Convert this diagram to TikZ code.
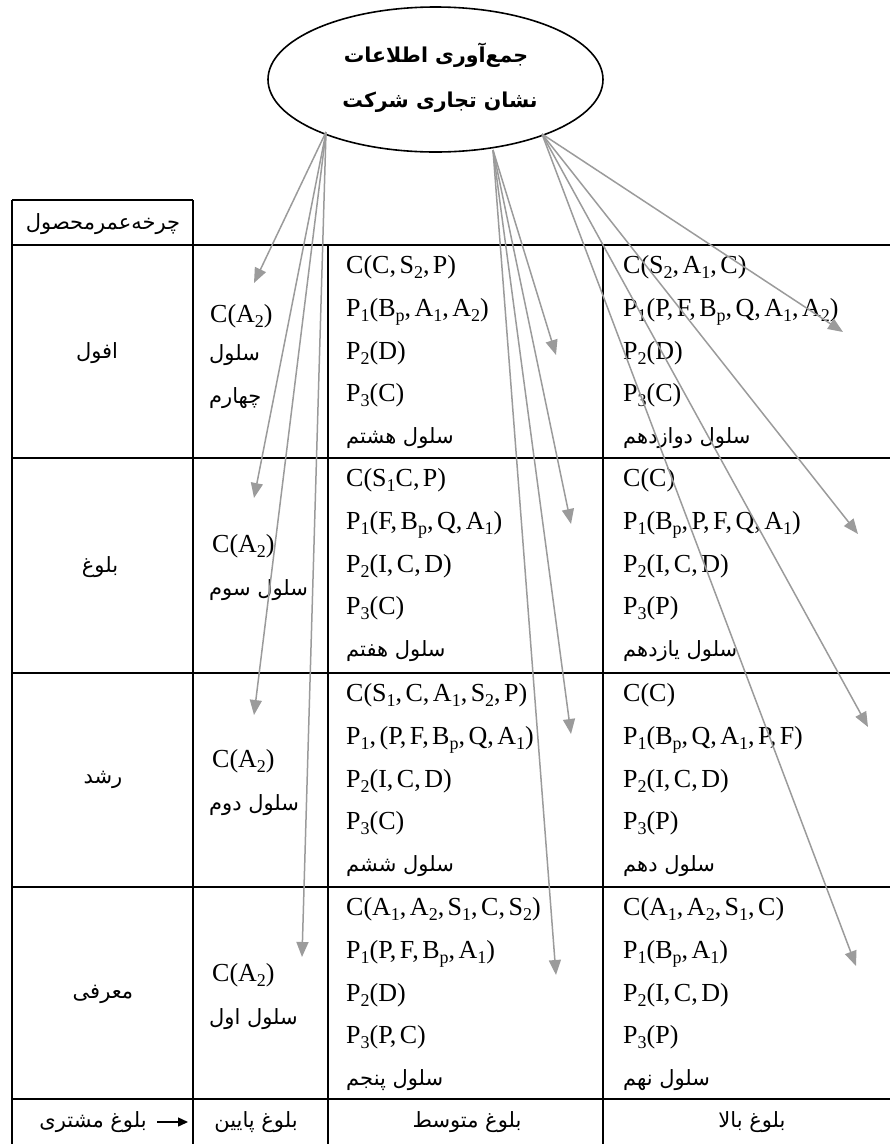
\documentclass[tikz,border=0pt]{standalone}
\usepackage{fontspec}
\setmainfont{Liberation Serif}
\newfontfamily\fa[Script=Arabic]{DejaVu Sans}
\TeXXeTstate=1
\usetikzlibrary{shapes.geometric,arrows.meta}
\definecolor{arr}{RGB}{155,155,155}
\newcommand\lo[1]{\raisebox{-5pt}{\fontsize{18}{18}\selectfont #1}}
\newcommand\cs{,\kern3.5pt}
\newcommand\cellfive[8]{%
  \node[mtext] (#1a) at (#2,#3+28) {#4};
  \node[mtext] (#1b) at (#2,#3+71) {#5};
  \node[mtext] (#1c) at (#2,#3+114) {#6};
  \node[mtext] (#1d) at (#2,#3+156) {#7};
  \node[ptext,anchor=base west] (#1e) at (#2,#3+198) {#8};
}
\tikzset{
  tbl/.style={line width=1.6pt, draw=black},
  link/.style={draw=arr, line width=1.5pt, -{Triangle[length=15pt,width=12pt]}},
  mtext/.style={inner sep=0pt, anchor=base west, font=\fontsize{26}{26}\selectfont},
  ptext/.style={inner sep=0pt, font=\fa\fontsize{21}{21}\selectfont},
  ttl/.style={inner sep=0pt, anchor=base, font=\fa\bfseries\fontsize{20.5}{20.5}\selectfont},
  ell/.style={draw=black, line width=1.6pt, ellipse, inner sep=0pt, outer sep=0pt,
              minimum width=335pt, minimum height=145pt},
}
\begin{document}
\begin{tikzpicture}[x=1pt,y=-1pt]
\useasboundingbox (0,0) rectangle (890,1144);
% source ellipse
\node[ell] (src) at (435.5,79.5) {};
\node[ttl] (t1) at (436,62) {\beginR جمع‌آوری اطلاعات\endR};
\node[ttl] (t2) at (440,107) {\beginR نشان تجاری شرکت\endR};
% table grid
\draw[tbl] (12,200) -- (193,200);
\draw[tbl] (12,200) -- (12,1144);
\draw[tbl] (193,200) -- (193,1144);
\draw[tbl] (328,245) -- (328,1144);
\draw[tbl] (603,245) -- (603,1144);
\foreach \yy in {245,458,673,887,1099} \draw[tbl] (12,\yy) -- (890,\yy);
% header
\node[ptext] (hdr) at (103,224) {\beginR چرخه‌عمرمحصول\endR};
% stage labels
\node[ptext] (s1) at (97,353) {\beginR افول\endR};
\node[ptext] (s2) at (100,567) {\beginR بلوغ\endR};
\node[ptext] (s3) at (103,780) {\beginR رشد\endR};
\node[ptext] (s4) at (103,994) {\beginR معرفی\endR};
% column 2
\node[mtext] (c4a) at (210,322) {C(A\lo2)};
\node[ptext,anchor=base west] (c4b) at (209,360) {\beginR سلول\endR};
\node[ptext,anchor=base west] (c4c) at (209,403) {\beginR چهارم\endR};
\node[mtext] (c3a) at (212,552) {C(A\lo2)};
\node[ptext,anchor=base west] (c3b) at (209,595) {\beginR سلول سوم\endR};
\node[mtext] (c2a) at (212,767) {C(A\lo2)};
\node[ptext,anchor=base west] (c2b) at (209,810) {\beginR سلول دوم\endR};
\node[mtext] (c1a) at (212,981) {C(A\lo2)};
\node[ptext,anchor=base west] (c1b) at (209,1024) {\beginR سلول اول\endR};
% column 3
\cellfive{c8}{346}{245}{C(C\cs S\lo2\cs P)}{P\lo1(B\lo p\cs A\lo1\cs A\lo2)}{P\lo2(D)}{P\lo3(C)}{\beginR سلول هشتم\endR}
\cellfive{c7}{346}{458}{C(S\lo1C\cs P)}{P\lo1(F\cs B\lo p\cs Q\cs A\lo1)}{P\lo2(I\cs C\cs D)}{P\lo3(C)}{\beginR سلول هفتم\endR}
\cellfive{c6}{346}{673}{C(S\lo1\cs C\cs A\lo1\cs S\lo2\cs P)}{P\lo1\cs(P\cs F\cs B\lo p\cs Q\cs A\lo1)}{P\lo2(I\cs C\cs D)}{P\lo3(C)}{\beginR سلول ششم\endR}
\cellfive{c5}{346}{887}{C(A\lo1\cs A\lo2\cs S\lo1\cs C\cs S\lo2)}{P\lo1(P\cs F\cs B\lo p\cs A\lo1)}{P\lo2(D)}{P\lo3(P\cs C)}{\beginR سلول پنجم\endR}
% column 4
\cellfive{c12}{623}{245}{C(S\lo2\cs A\lo1\cs C)}{P\lo1(P\cs F\cs B\lo p\cs Q\cs A\lo1\cs A\lo2)}{P\lo2(D)}{P\lo3(C)}{\beginR سلول دوازدهم\endR}
\cellfive{c11}{623}{458}{C(C)}{P\lo1(B\lo p\cs P\cs F\cs Q\cs A\lo1)}{P\lo2(I\cs C\cs D)}{P\lo3(P)}{\beginR سلول یازدهم\endR}
\cellfive{c10}{623}{673}{C(C)}{P\lo1(B\lo p\cs Q\cs A\lo1\cs P\cs F)}{P\lo2(I\cs C\cs D)}{P\lo3(P)}{\beginR سلول دهم\endR}
\cellfive{c9}{623}{887}{C(A\lo1\cs A\lo2\cs S\lo1\cs C)}{P\lo1(B\lo p\cs A\lo1)}{P\lo2(I\cs C\cs D)}{P\lo3(P)}{\beginR سلول نهم\endR}
% bottom row
\node[ptext] (b1) at (93,1122) {\beginR بلوغ مشتری\endR};
\coordinate (ba) at (157,1122);
\coordinate (bb) at (188,1122);
\draw[line width=1.4pt,-{Triangle[length=10pt,width=9pt]}] (ba) -- (bb);
\node[ptext] (b2) at (256,1122) {\beginR بلوغ پایین\endR};
\node[ptext] (b3) at (467,1122) {\beginR بلوغ متوسط\endR};
\node[ptext] (b4) at (752,1122) {\beginR بلوغ بالا\endR};
% arrow origins on ellipse and targets
\coordinate (oL) at (326,132);
\coordinate (oM) at (493,150);
\coordinate (oR) at (542,134);
\coordinate (L1) at (254,283);
\coordinate (L2) at (254,498);
\coordinate (L3) at (254,715);
\coordinate (L4) at (302,957);
\coordinate (M1) at (556,355);
\coordinate (M2) at (571,524);
\coordinate (M3) at (571,734);
\coordinate (M4) at (556,975);
\coordinate (R1) at (843,332);
\coordinate (R2) at (858,534);
\coordinate (R3) at (868,727);
\coordinate (R4) at (856,966);
\foreach \t in {L1,L2,L3,L4} \draw[link] (oL) -- (\t);
\foreach \t in {M1,M2,M3,M4} \draw[link] (oM) -- (\t);
\foreach \t in {R1,R2,R3,R4} \draw[link] (oR) -- (\t);
\end{tikzpicture}
\end{document}
